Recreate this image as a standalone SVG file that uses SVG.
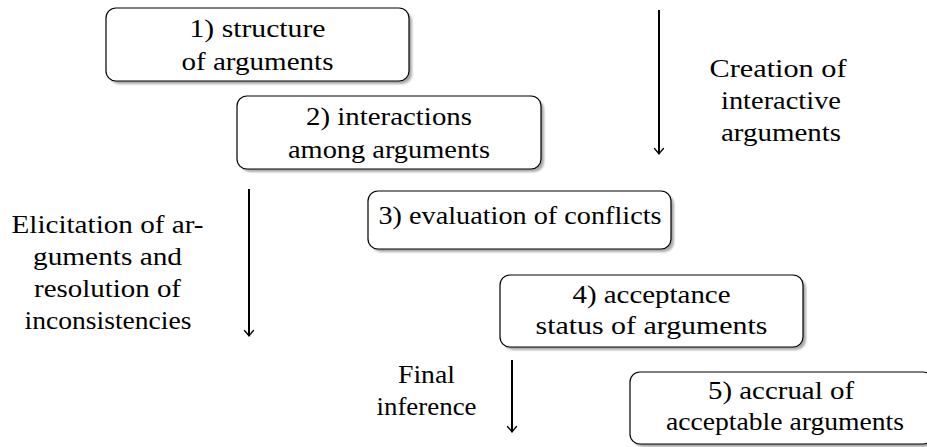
<svg xmlns="http://www.w3.org/2000/svg" width="927" height="447" viewBox="0 0 927 447">
<style>
  text { font-family: "Liberation Serif", "DejaVu Serif", serif; font-size: 26px; fill: #000; text-anchor: middle; }
  .box { fill: #fff; stroke: #000; stroke-width: 1.2; }
  .shadow { fill: #8c8c8c; opacity: 0.75; filter: url(#blur); }
  .arrow { stroke: #000; stroke-width: 2; fill: none; marker-end: url(#to); }
</style>
<defs>
  <filter id="blur" x="-5%" y="-10%" width="110%" height="120%">
    <feGaussianBlur stdDeviation="0.9"/>
  </filter>
  <marker id="to" viewBox="-7 -6 9 12" refX="0" refY="0" markerWidth="9" markerHeight="12" markerUnits="userSpaceOnUse" orient="auto">
    <path d="M -5.5,-4.5 Q -1.5,-1 0,0 Q -1.5,1 -5.5,4.5" fill="none" stroke="#000" stroke-width="1.3" stroke-linecap="round"/>
  </marker>
</defs>
<rect width="927" height="447" fill="#fff"/>

<g id="node1">
  <rect class="shadow" x="109" y="11" width="303" height="73" rx="10"/>
  <rect class="box" x="106" y="8" width="303" height="73" rx="10"/>
  <text x="257.5" y="37" textLength="136" lengthAdjust="spacingAndGlyphs">1) structure</text>
  <text x="257.5" y="70" textLength="152" lengthAdjust="spacingAndGlyphs">of arguments</text>
</g>

<g id="node2">
  <rect class="shadow" x="240" y="99" width="304" height="73" rx="10"/>
  <rect class="box" x="237" y="96" width="304" height="73" rx="10"/>
  <text x="389" y="125" textLength="166" lengthAdjust="spacingAndGlyphs">2) interactions</text>
  <text x="389" y="157.5" textLength="202" lengthAdjust="spacingAndGlyphs">among arguments</text>
</g>

<g id="node3">
  <rect class="shadow" x="371" y="194" width="303" height="58" rx="10"/>
  <rect class="box" x="368" y="191" width="303" height="58" rx="10"/>
  <text x="520" y="223.5" textLength="283" lengthAdjust="spacingAndGlyphs">3) evaluation of conflicts</text>
</g>

<g id="node4">
  <rect class="shadow" x="503" y="278" width="303" height="72" rx="10"/>
  <rect class="box" x="500" y="275" width="303" height="72" rx="10"/>
  <text x="651.5" y="302.5" textLength="158" lengthAdjust="spacingAndGlyphs">4) acceptance</text>
  <text x="651.5" y="334" textLength="232" lengthAdjust="spacingAndGlyphs">status of arguments</text>
</g>

<g id="node5">
  <rect class="shadow" x="633" y="375" width="303" height="72" rx="10"/>
  <rect class="box" x="630" y="372" width="303" height="72" rx="10"/>
  <text x="781" y="398.5" textLength="146" lengthAdjust="spacingAndGlyphs">5) accrual of</text>
  <text x="785" y="430" textLength="238" lengthAdjust="spacingAndGlyphs">acceptable arguments</text>
</g>

<g id="connectors">
  <line class="arrow" x1="659" y1="10" x2="659" y2="154"/>
  <line class="arrow" x1="249" y1="189" x2="249" y2="336"/>
  <line class="arrow" x1="512" y1="360" x2="512" y2="432"/>
</g>

<g id="label-creation">
  <text x="778" y="77" textLength="137" lengthAdjust="spacingAndGlyphs">Creation of</text>
  <text x="781" y="109" textLength="120" lengthAdjust="spacingAndGlyphs">interactive</text>
  <text x="781" y="141" textLength="120" lengthAdjust="spacingAndGlyphs">arguments</text>
</g>

<g id="label-elicitation">
  <text x="107.5" y="233" textLength="192" lengthAdjust="spacingAndGlyphs">Elicitation of ar-</text>
  <text x="107.5" y="265" textLength="149" lengthAdjust="spacingAndGlyphs">guments and</text>
  <text x="107.5" y="297" textLength="147" lengthAdjust="spacingAndGlyphs">resolution of</text>
  <text x="108" y="329" textLength="167" lengthAdjust="spacingAndGlyphs">inconsistencies</text>
</g>

<g id="label-final">
  <text x="426.5" y="383" textLength="57" lengthAdjust="spacingAndGlyphs">Final</text>
  <text x="426.5" y="415" textLength="100" lengthAdjust="spacingAndGlyphs">inference</text>
</g>
</svg>
